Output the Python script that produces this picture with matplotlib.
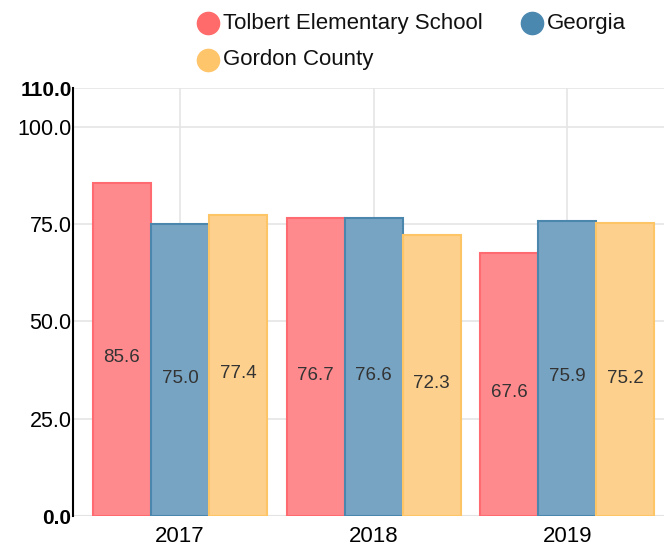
import matplotlib.pyplot as plt
import numpy as np
from matplotlib.lines import Line2D

plt.rcParams['font.family'] = ['Liberation Sans', 'DejaVu Sans']

# data
years = ["2017", "2018", "2019"]
series = ["Tolbert Elementary School", "Georgia", "Gordon County"]
tolbert = [85.6, 76.7, 67.6]
georgia = [75.0, 76.6, 75.9]
gordon = [77.4, 72.3, 75.2]
y_ticks = [0.0, 25.0, 50.0, 75.0, 100.0, 110.0]

fills = ["#ff8a8e", "#77a4c3", "#fed08d"]
edges = ["#ff6b70", "#4b86ad", "#fec567"]
dots = ["#ff6b6b", "#4b88b0", "#ffc56b"]

W, H = 664, 547
fig = plt.figure(figsize=(W / 100, H / 100), dpi=100)
ax = fig.add_axes([73 / W, 1 - 516 / H, 1 - 73 / W, (516 - 88) / H])

x = np.arange(len(years))
w = 0.3
for i, vals in enumerate([tolbert, georgia, gordon]):
    xs = x + (i - 1) * w
    ax.bar(xs, vals, width=w, color=fills[i], edgecolor=edges[i], linewidth=1.5, zorder=3)
    for xi, v in zip(xs, vals):
        ax.text(xi, v / 2, f"{v:.1f}", ha='center', va='top', fontsize=13.5,
                color='#333333', zorder=4)

ax.set_xlim(-0.553, 2.5)
ax.set_ylim(0, 110)
ax.set_xticks(x)
ax.set_xticklabels(years, fontsize=16)
ax.set_yticks(y_ticks)
ax.set_yticklabels([f"{t:.1f}" for t in y_ticks], fontsize=15.5)
for lbl, t in zip(ax.get_yticklabels(), y_ticks):
    if t in (0.0, 110.0):
        lbl.set_fontweight('bold')
        lbl.set_fontsize(15)
ax.tick_params(axis='y', length=0, pad=1)
ax.tick_params(axis='x', length=0, pad=7)

ax.grid(True, color='#e5e5e5', linewidth=1.2, zorder=0)
for s in ['top', 'right', 'bottom']:
    ax.spines[s].set_visible(False)
ax.spines['left'].set_color('black')
ax.spines['left'].set_linewidth(1.5)
ax.axhline(0, color='#dddddd', linewidth=1.5, zorder=1)

# legend drawn by hand: circle + label, two per row
legend_pos = [(208, 23), (532, 23), (208, 60)]
for (px, py), name, c in zip(legend_pos, series, dots):
    fx, fy = px / W, 1 - py / H
    fig.add_artist(Line2D([fx], [fy], marker='o', markersize=16, linestyle='none',
                          markerfacecolor=c, markeredgecolor=c, transform=fig.transFigure))
    fig.text(fx + 15 / W, fy, name, fontsize=16, va='center', ha='left', color='#111111')

fig.savefig("out.png", dpi=100)
